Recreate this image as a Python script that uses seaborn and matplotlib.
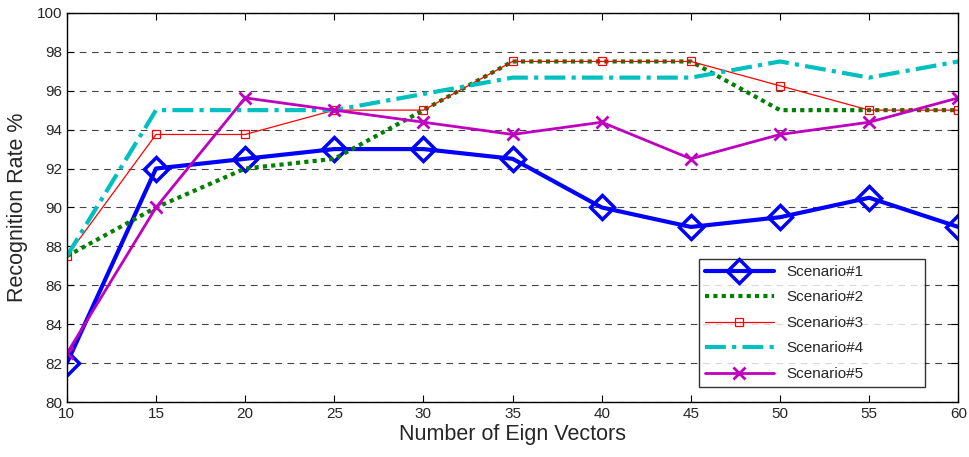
import pandas as pd
import matplotlib.pyplot as plt
import seaborn as sns

# data
vectors = [10, 15, 20, 25, 30, 35, 40, 45, 50, 55, 60]
scenario1 = [82.0, 92.0, 92.5, 93.0, 93.0, 92.5, 90.0, 89.0, 89.5, 90.5, 89.0]
scenario2 = [87.5, 90.0, 92.0, 92.5, 95.0, 97.5, 97.5, 97.5, 95.0, 95.0, 95.0]
scenario3 = [87.5, 93.75, 93.75, 95.0, 95.0, 97.5, 97.5, 97.5, 96.25, 95.0, 95.0]
scenario4 = [87.5, 95.0, 95.0, 95.0, 95.83, 96.67, 96.67, 96.67, 97.5, 96.67, 97.5]
scenario5 = [82.5, 90.0, 95.63, 95.0, 94.38, 93.75, 94.38, 92.5, 93.75, 94.38, 95.63]
names = ["Scenario#1", "Scenario#2", "Scenario#3", "Scenario#4", "Scenario#5"]

sns.set_theme(style="white")
plt.rcParams['font.family'] = ['Liberation Sans', 'DejaVu Sans']

styles = {
    "Scenario#1": dict(color="#0000ff", lw=3, ls="-", marker="D", ms=12, mfc="none", mew=2.5),
    "Scenario#2": dict(color="#008000", lw=3, ls=(0, (1, 1)), marker=None),
    "Scenario#3": dict(color="#ff0000", lw=0.9, ls="-", marker="s", ms=6, mfc="none", mew=0.9),
    "Scenario#4": dict(color="#00bfbf", lw=3, ls=(0, (5, 1.5, 1, 1.5)), marker=None),
    "Scenario#5": dict(color="#bf00bf", lw=2, ls="-", marker="x", ms=9, mew=2),
}

fig, ax = plt.subplots(figsize=(9.69, 4.57), dpi=100)
fig.subplots_adjust(left=0.069, right=0.989, top=0.972, bottom=0.12)

for name, vals in zip(names, [scenario1, scenario2, scenario3, scenario4, scenario5]):
    df = pd.DataFrame({"x": vectors, "y": vals})
    st = styles[name]
    kw = dict(color=st["color"], linewidth=st["lw"], linestyle=st["ls"], label=name)
    if st["marker"]:
        kw.update(marker=st["marker"], markersize=st["ms"], markeredgewidth=st["mew"],
                  markeredgecolor=st["color"])
        if "mfc" in st:
            kw["markerfacecolor"] = st["mfc"]
    sns.lineplot(data=df, x="x", y="y", ax=ax, **kw)

ax.set_xlim(10, 60)
ax.set_ylim(80, 100)
ax.set_xticks(vectors)
ax.set_yticks(range(80, 101, 2))
ax.yaxis.grid(True, color="#444444", linestyle=(0, (6, 5)), linewidth=0.8)
ax.tick_params(direction="in", bottom=True, left=True, top=True, right=True,
               length=5, labelsize=11, width=0.8, color="black")
for sp in ax.spines.values():
    sp.set_color("black")
    sp.set_linewidth(1)
ax.set_xlabel("Number of Eign Vectors", fontsize=15.5, labelpad=2)
ax.set_ylabel("Recognition Rate %", fontsize=15.5, labelpad=6)

leg = ax.legend(loc="lower left", bbox_to_anchor=(0.709, 0.039, 0.254, 0.347), mode="expand",
                fontsize=11, frameon=True, fancybox=False, edgecolor="black",
                handlelength=4.5, labelspacing=0.75, borderaxespad=0)
leg.get_frame().set_linewidth(1)

plt.savefig("out.png", dpi=100)
